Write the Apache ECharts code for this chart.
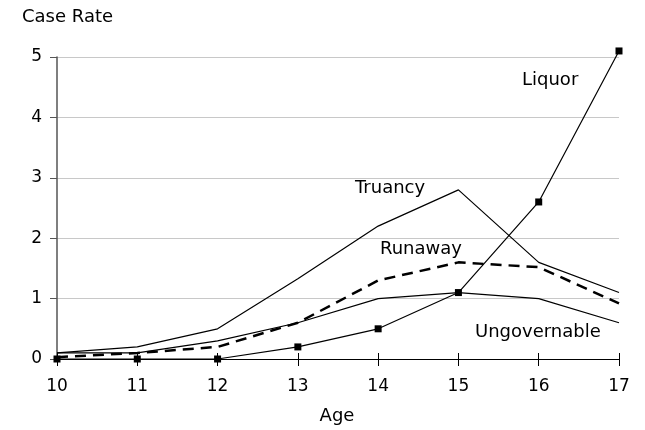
<!DOCTYPE html>
<html>
<head>
<meta charset="utf-8">
<script src="https://cdn.jsdelivr.net/npm/echarts@6/dist/echarts.min.js"></script>
<style>html,body{margin:0;padding:0;background:#fff}#c{width:645px;height:430px}</style>
</head>
<body>
<div id="c"></div>
<script>
const ages = [10, 11, 12, 13, 14, 15, 16, 17];
const liquor = [0, 0, 0, 0.2, 0.5, 1.1, 2.6, 5.1];
const truancy = [0.1, 0.2, 0.5, 1.33, 2.2, 2.8, 1.6, 1.1];
const runaway = [0.03, 0.1, 0.2, 0.6, 1.3, 1.6, 1.52, 0.92];
const ungovernable = [0.1, 0.1, 0.3, 0.6, 1.0, 1.1, 1.0, 0.6];
const yTicks = [0, 1, 2, 3, 4, 5];
const seriesNames = ['Liquor', 'Truancy', 'Runaway', 'Ungovernable'];

const FONT = 'DejaVu Sans';
const pairs = arr => ages.map((a, i) => [a, arr[i]]);

const chart = echarts.init(document.getElementById('c'), null, {renderer: 'canvas'});
chart.setOption({
  animation: false,
  backgroundColor: '#ffffff',
  grid: {left: 57, right: 26, top: 57, bottom: 71, containLabel: false},
  xAxis: [{
    type: 'value', min: ages[0], max: ages[ages.length - 1], interval: 1,
    axisLine: {show: true, lineStyle: {color: '#000', width: 1}},
    axisTick: {show: true, length: 7, lineStyle: {color: '#000', width: 1}},
    axisLabel: {color: '#000', fontFamily: FONT, fontSize: 17, margin: 19},
    splitLine: {show: false}
  }, {
    type: 'value', min: ages[0], max: ages[ages.length - 1], interval: 1, position: 'bottom',
    axisLine: {show: false},
    axisTick: {show: true, inside: true, length: 6, lineStyle: {color: '#000', width: 1}},
    axisLabel: {show: false},
    splitLine: {show: false}
  }],
  yAxis: {
    type: 'value', min: yTicks[0], max: yTicks[yTicks.length - 1], interval: 1,
    axisLine: {show: true, lineStyle: {color: '#555', width: 1.5}},
    axisTick: {show: true, length: 7, lineStyle: {color: '#555', width: 1}},
    axisLabel: {color: '#000', fontFamily: FONT, fontSize: 17, margin: 15, padding: [4, 0, 0, 0]},
    splitLine: {show: true, lineStyle: {color: '#c8c8c8', width: 1}}
  },
  series: [
    {name: seriesNames[1], type: 'line', data: pairs(truancy), symbol: 'none',
     lineStyle: {color: '#000', width: 1.2}, z: 3},
    {name: seriesNames[3], type: 'line', data: pairs(ungovernable), symbol: 'none',
     lineStyle: {color: '#000', width: 1.2}, z: 3},
    {name: seriesNames[2], type: 'line', data: pairs(runaway), symbol: 'none',
     lineStyle: {color: '#000', width: 2.5, type: [11, 7]}, z: 4},
    {name: seriesNames[0], type: 'line', data: pairs(liquor), symbol: 'rect', symbolSize: 7,
     clip: false,
     itemStyle: {color: '#000'}, lineStyle: {color: '#000', width: 1.2}, z: 5}
  ],
  graphic: [
    {type: 'text', left: 22, top: 8, style: {text: 'Case Rate', font: '18px "DejaVu Sans"', fill: '#000'}},
    {type: 'text', x: 337, y: 416, style: {text: 'Age', font: '18px "DejaVu Sans"', fill: '#000', align: 'center', verticalAlign: 'middle'}},
    {type: 'text', x: 522, y: 80, style: {text: seriesNames[0], font: '18px "DejaVu Sans"', fill: '#000', verticalAlign: 'middle'}},
    {type: 'text', x: 355, y: 188, style: {text: seriesNames[1], font: '18px "DejaVu Sans"', fill: '#000', verticalAlign: 'middle'}},
    {type: 'text', x: 380, y: 249, style: {text: seriesNames[2], font: '18px "DejaVu Sans"', fill: '#000', verticalAlign: 'middle'}},
    {type: 'text', x: 475, y: 332, style: {text: seriesNames[3], font: '18px "DejaVu Sans"', fill: '#000', verticalAlign: 'middle'}}
  ]
});
</script>
</body>
</html>
